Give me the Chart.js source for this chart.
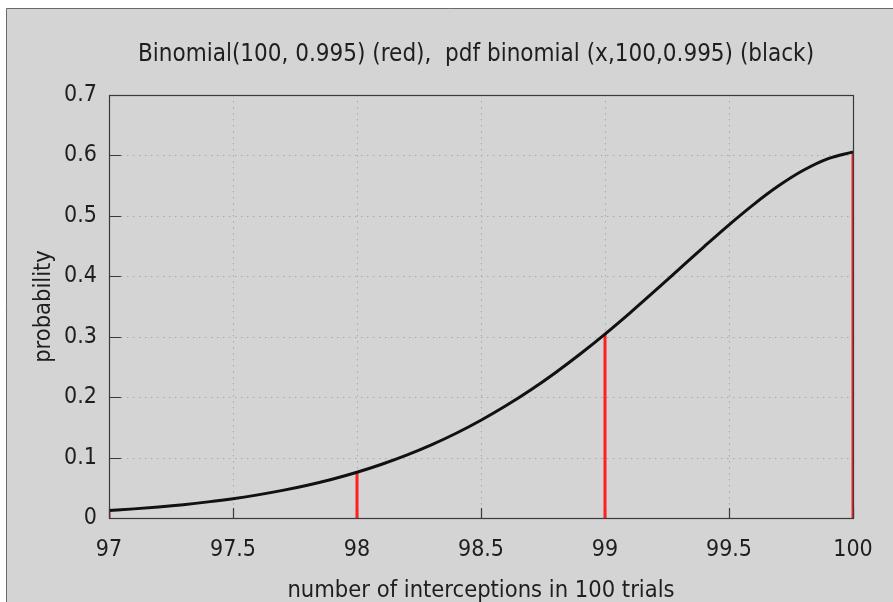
<!DOCTYPE html>
<html>
<head>
<meta charset="utf-8">
<script src="https://cdn.jsdelivr.net/npm/chart.js@4.4.1/dist/chart.umd.min.js"></script>
<style>
  html, body { margin: 0; padding: 0; background: #ffffff; }
  #wrap { position: relative; width: 893px; height: 602px; }
</style>
</head>
<body>
<div id="wrap"><canvas id="binom-chart" width="893" height="602"></canvas></div>
<script>
// pmf of Binomial(100, 0.995) at the integer points (red impulses)
const stemX = [97, 98, 99, 100];
const stemP = [0.0124, 0.0757, 0.3044, 0.6058];

// continuous "pdf binomial" curve (black line)
const curveX = [97, 97.1, 97.2, 97.3, 97.4, 97.5, 97.6, 97.7, 97.8, 97.9,
  98, 98.1, 98.2, 98.3, 98.4, 98.5, 98.6, 98.7, 98.8, 98.9,
  99, 99.1, 99.2, 99.3, 99.4, 99.5, 99.6, 99.7, 99.8, 99.9, 100];
const curveP = [0.0124, 0.0151, 0.0183, 0.0221, 0.0267, 0.0320, 0.0383, 0.0457, 0.0543, 0.0642,
  0.0757, 0.0889, 0.1040, 0.1210, 0.1402, 0.1617, 0.1856, 0.2118, 0.2405, 0.2714,
  0.3044, 0.3392, 0.3754, 0.4123, 0.4492, 0.4852, 0.5191, 0.5497, 0.5754, 0.5947, 0.6058];

const xTicks = [97, 97.5, 98, 98.5, 99, 99.5, 100];
const xTickLabels = ["97", "97.5", "98", "98.5", "99", "99.5", "100"];
const yTicks = [0, 0.1, 0.2, 0.3, 0.4, 0.5, 0.6, 0.7];
const yTickLabels = ["0", "0.1", "0.2", "0.3", "0.4", "0.5", "0.6", "0.7"];

const titleText = "Binomial(100, 0.995) (red),  pdf binomial (x,100,0.995) (black)";
const xTitle = "number of interceptions in 100 trials";
const yTitle = "probability";

const FONT = "'DejaVu Sans Condensed', 'DejaVu Sans', sans-serif";
const TEXT = "#1e1e1e";

const frame = {
  id: "frame",
  beforeDraw(chart) {
    const c = chart.ctx;
    c.save();
    c.fillStyle = "#ffffff";
    c.fillRect(0, 0, chart.width, chart.height);
    c.fillStyle = "#d4d4d4";
    c.fillRect(6, 8, chart.width - 6, chart.height - 8);
    c.strokeStyle = "#6a6a6a";
    c.lineWidth = 1;
    c.beginPath();
    c.moveTo(6.5, chart.height);
    c.lineTo(6.5, 8.5);
    c.lineTo(chart.width, 8.5);
    c.stroke();
    // title
    c.fillStyle = TEXT;
    c.font = "24px " + FONT;
    c.textAlign = "center";
    c.textBaseline = "alphabetic";
    c.fillText(titleText, 476, 61);
    c.restore();
  },
  beforeDatasetsDraw(chart) {
    const { ctx: c, chartArea: a, scales } = chart;
    c.save();
    c.strokeStyle = "#a9a9a9";
    c.lineWidth = 1;
    c.setLineDash([1.5, 4.5]);
    xTicks.slice(1, -1).forEach((v) => {
      const px = Math.round(scales.x.getPixelForValue(v)) + 0.5;
      c.beginPath();
      c.moveTo(px, a.top);
      c.lineTo(px, a.bottom);
      c.stroke();
    });
    yTicks.slice(1, -1).forEach((v) => {
      const py = Math.round(scales.y.getPixelForValue(v)) + 0.5;
      c.beginPath();
      c.moveTo(a.left, py);
      c.lineTo(a.right, py);
      c.stroke();
    });
    // inward tick marks, under the impulses
    c.setLineDash([]);
    c.strokeStyle = "#3a3a3a";
    c.lineWidth = 1.2;
    c.beginPath();
    xTicks.forEach((v) => {
      const px = Math.round(scales.x.getPixelForValue(v)) + 0.5;
      c.moveTo(px, a.bottom);
      c.lineTo(px, a.bottom - 10);
    });
    yTicks.forEach((v) => {
      const py = Math.round(scales.y.getPixelForValue(v)) + 0.5;
      c.moveTo(a.left, py);
      c.lineTo(a.left + 12, py);
    });
    c.stroke();
    c.restore();
  },
  afterDatasetsDraw(chart) {
    const { ctx: c, chartArea: a } = chart;
    c.save();
    c.strokeStyle = "#3a3a3a";
    c.lineWidth = 1.2;
    c.strokeRect(a.left + 0.5, a.top + 0.5, a.right - a.left, a.bottom - a.top);
    c.restore();
  },
};

const datasets = [
  {
    data: curveX.map((x, i) => ({ x: x, y: curveP[i] })),
    borderColor: "#111111",
    borderWidth: 3,
    pointRadius: 0,
    cubicInterpolationMode: "monotone",
    order: 0,
  },
];
stemX.forEach((x, i) => {
  datasets.push({
    data: [{ x: x, y: 0 }, { x: x, y: stemP[i] }],
    borderColor: "#ff2020",
    borderWidth: 3,
    pointRadius: 0,
    order: 1,
  });
});

new Chart(document.getElementById("binom-chart"), {
  type: "line",
  data: { datasets },
  options: {
    responsive: false,
    animation: false,
    events: [],
    layout: { padding: { top: 95, right: 40, left: 0, bottom: 0 } },
    plugins: { legend: { display: false }, tooltip: { enabled: false } },
    scales: {
      x: {
        type: "linear",
        min: 97,
        max: 100,
        afterBuildTicks: (s) => { s.ticks = xTicks.map((v) => ({ value: v })); },
        afterFit: (s) => { s.height = 84; s.paddingLeft = 0; s.paddingRight = 0; },
        grid: { display: false, drawTicks: false },
        border: { display: false },
        ticks: {
          autoSkip: false,
          maxRotation: 0,
          padding: 18,
          color: TEXT,
          font: { family: FONT, size: 23 },
          callback: (v, i) => xTickLabels[i],
        },
        title: {
          display: true,
          text: xTitle,
          color: TEXT,
          font: { family: FONT, size: 23.5 },
          padding: { top: 0, bottom: -3 },
        },
      },
      y: {
        min: 0,
        max: 0.7,
        afterBuildTicks: (s) => { s.ticks = yTicks.map((v) => ({ value: v })); },
        afterFit: (s) => { s.width = 109; s.paddingTop = 0; s.paddingBottom = 0; },
        grid: { display: false, drawTicks: false },
        border: { display: false },
        ticks: {
          padding: 12,
          color: TEXT,
          font: { family: FONT, size: 23 },
          callback: (v, i) => yTickLabels[i],
        },
        title: {
          display: true,
          text: yTitle,
          color: TEXT,
          font: { family: FONT, size: 23.5 },
          padding: { top: 30, bottom: 0 },
        },
      },
    },
  },
  plugins: [frame],
});
</script>
</body>
</html>
